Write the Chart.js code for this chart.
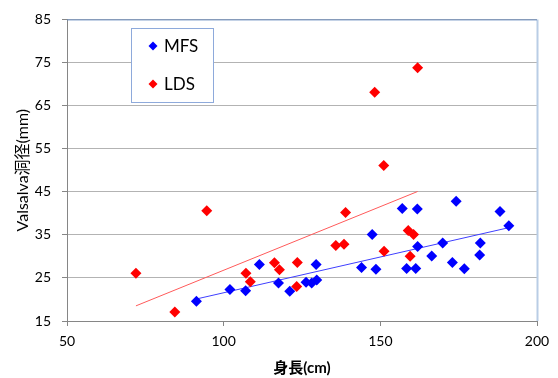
<!DOCTYPE html>
<html>
<head>
<meta charset="utf-8">
<script src="https://cdn.jsdelivr.net/npm/chart.js@4/dist/chart.umd.min.js"></script>
<style>
  html, body { margin: 0; padding: 0; background: #fff; }
  #wrap { width: 558px; height: 378px; }
</style>
</head>
<body>
<div id="wrap"><canvas id="scatterChart"></canvas></div>
<script>
// MFS: height (cm) / Valsalva diameter (mm)
var mfsHeight = [91.3, 102.0, 107.0, 111.4, 117.5, 121.1, 126.3, 128.1, 129.7, 129.5,
                 144.0, 148.6, 147.4, 157.0, 161.8, 158.4, 161.3, 161.9, 166.4, 169.9,
                 173.0, 174.2, 176.8, 181.7, 181.9, 188.2, 191.0];
var mfsDiam   = [19.6, 22.3, 22.0, 28.1, 23.8, 21.9, 24.0, 23.8, 24.5, 28.1,
                 27.4, 27.0, 35.1, 41.1, 41.0, 27.2, 27.2, 32.3, 30.1, 33.1,
                 28.6, 42.8, 27.1, 30.3, 33.1, 40.4, 37.1];

// LDS
var ldsHeight = [72.0, 84.4, 94.6, 107.1, 108.5, 116.2, 117.8, 123.5, 123.3, 135.8,
                 138.4, 138.9, 148.2, 151.1, 151.2, 158.9, 159.5, 160.6, 161.9];
var ldsDiam   = [26.1, 17.1, 40.6, 26.1, 24.1, 28.5, 26.9, 28.6, 23.0, 32.5,
                 32.8, 40.2, 68.1, 51.1, 31.2, 36.0, 30.0, 35.1, 73.8];

var xTicks = [50, 100, 150, 200];
var yTicks = [15, 25, 35, 45, 55, 65, 75, 85];

var fontFamily = "Lato, 'Noto Sans CJK JP', sans-serif";

function toPoints(xs, ys) {
  return xs.map(function (x, i) { return {x: x, y: ys[i]}; });
}

// least squares trend line, drawn from min to max x like excel does
function trendLine(xs, ys) {
  var n = xs.length, sx = 0, sy = 0, sxx = 0, sxy = 0;
  for (var i = 0; i < n; i++) {
    sx += xs[i]; sy += ys[i]; sxx += xs[i] * xs[i]; sxy += xs[i] * ys[i];
  }
  var b = (n * sxy - sx * sy) / (n * sxx - sx * sx);
  var a = (sy - b * sx) / n;
  var lo = Math.min.apply(null, xs), hi = Math.max.apply(null, xs);
  return [{x: lo, y: a + b * lo}, {x: hi, y: a + b * hi}];
}

// plot area frame (top + right edge)
var plotFrame = {
  id: 'plotFrame',
  beforeDatasetsDraw: function (chart) {
    var a = chart.chartArea, c = chart.ctx;
    c.save();
    c.strokeStyle = '#b9cde5';
    c.lineWidth = 2;
    c.beginPath();
    c.moveTo(a.right + 0.5, a.top);
    c.lineTo(a.right + 0.5, a.bottom);
    c.stroke();
    c.strokeStyle = '#6a8cbf';
    c.lineWidth = 1;
    c.beginPath();
    c.moveTo(a.left, a.top + 0.5);
    c.lineTo(a.right, a.top + 0.5);
    c.stroke();
    c.restore();
  }
};

// boxed legend inside the plot
var legendBox = {
  id: 'legendBox',
  afterDraw: function (chart) {
    var c = chart.ctx;
    var box = {x: 131.5, y: 28.5, w: 82, h: 74};
    c.save();
    c.fillStyle = '#fff';
    c.fillRect(box.x, box.y, box.w, box.h);
    c.strokeStyle = '#8eaadb';
    c.lineWidth = 1;
    c.strokeRect(box.x, box.y, box.w, box.h);
    [0, 1].forEach(function (i) {
      var ds = chart.data.datasets[i];
      var cy = 46 + i * 38;
      var cx = 153;
      c.fillStyle = ds.backgroundColor;
      c.beginPath();
      c.moveTo(cx, cy - 4.5);
      c.lineTo(cx + 4.5, cy);
      c.lineTo(cx, cy + 4.5);
      c.lineTo(cx - 4.5, cy);
      c.closePath();
      c.fill();
      c.fillStyle = '#000';
      c.font = '17px ' + fontFamily;
      c.textBaseline = 'middle';
      c.fillText(ds.label, 164, cy + 1);
    });
    c.restore();
  }
};

var ctx = document.getElementById('scatterChart');
var myChart = new Chart(ctx, {
  type: 'scatter',
  data: {
    datasets: [{
        label: 'MFS',
        data: toPoints(mfsHeight, mfsDiam),
        backgroundColor: '#0000ff',
        borderColor: '#0000ff',
        pointStyle: 'rectRot',
        pointRadius: 5.5,
        borderWidth: 0,
        order: 1
      },
      {
        label: 'LDS',
        data: toPoints(ldsHeight, ldsDiam),
        backgroundColor: '#ff0000',
        borderColor: '#ff0000',
        pointStyle: 'rectRot',
        pointRadius: 5.5,
        borderWidth: 0,
        order: 1
      },
      {
        label: 'MFS trend',
        type: 'line',
        data: trendLine(mfsHeight, mfsDiam),
        borderColor: '#3f3fff',
        borderWidth: 1,
        pointRadius: 0,
        fill: false,
        order: 2
      },
      {
        label: 'LDS trend',
        type: 'line',
        data: trendLine(ldsHeight, ldsDiam),
        borderColor: '#ff5a5a',
        borderWidth: 1,
        pointRadius: 0,
        fill: false,
        order: 2
      }
    ]
  },
  options: {
    responsive: true,
    maintainAspectRatio: false,
    animation: false,
    layout: {
      padding: {left: 0, right: 21, top: 15, bottom: 0}
    },
    scales: {
      x: {
        type: 'linear',
        min: 50,
        max: 200,
        afterBuildTicks: function (scale) {
          scale.ticks = xTicks.map(function (v) { return {value: v}; });
        },
        afterFit: function (scale) { scale.height = 57; },
        grid: {
          drawOnChartArea: false,
          drawTicks: true,
          tickLength: 5,
          tickColor: '#868686'
        },
        border: {color: '#868686', width: 1},
        ticks: {
          color: '#000',
          padding: 7,
          maxRotation: 0,
          font: {family: fontFamily, size: 14}
        },
        title: {
          display: true,
          text: '身長(cm)',
          color: '#000',
          font: {family: fontFamily, size: 15, weight: 'bold'},
          padding: {top: 0, bottom: 1}
        }
      },
      y: {
        type: 'linear',
        min: 15,
        max: 85,
        afterBuildTicks: function (scale) {
          scale.ticks = yTicks.map(function (v) { return {value: v}; });
        },
        afterFit: function (scale) { scale.width = 67; },
        grid: {
          color: '#b3b3b3',
          tickColor: '#868686',
          tickLength: 5
        },
        border: {color: '#868686', width: 1},
        ticks: {
          color: '#000',
          padding: 11,
          font: {family: fontFamily, size: 14}
        },
        title: {
          display: true,
          text: 'Valsalva洞径(mm)',
          color: '#000',
          font: {family: fontFamily, size: 16},
          padding: {top: 13, bottom: 0}
        }
      }
    },
    plugins: {
      legend: {display: false},
      tooltip: {enabled: false}
    }
  },
  plugins: [plotFrame, legendBox]
});
</script>
</body>
</html>
